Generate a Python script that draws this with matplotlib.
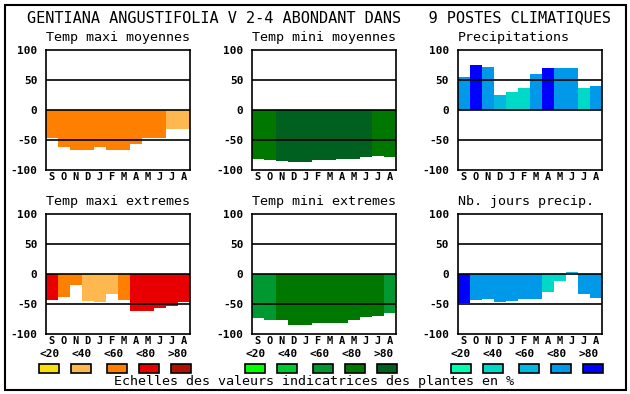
import matplotlib
matplotlib.use("Agg")
import matplotlib.pyplot as plt
from matplotlib.patches import Rectangle

# mois (septembre -> aout)
mois = ["S", "O", "N", "D", "J", "F", "M", "A", "M", "J", "J", "A"]
classes = ["<20", "<40", "<60", "<80", ">80"]

# palettes des classes (<20 ... >80)
oranges = ["#F8E010", "#FFB850", "#FF8000", "#E80000", "#B01000"]
verts = ["#00FF00", "#00C830", "#009830", "#007800", "#006020"]
bleus = ["#00FFB0", "#00D8C8", "#00B8E0", "#0098E8", "#0000FF"]

tmax_moy = [-47, -61, -66, -67, -62, -66, -67, -56, -46, -46, -32, -32]
tmax_moy_cl = [2, 2, 2, 2, 2, 2, 2, 2, 2, 2, 1, 1]

tmin_moy = [-81, -83, -85, -87, -86, -83, -83, -81, -81, -78, -76, -78]
tmin_moy_cl = [3, 3, 4, 4, 4, 4, 4, 4, 4, 4, 3, 3]

precip = [55, 75, 72, 25, 30, 37, 60, 70, 70, 70, 37, 40]
precip_cl = [3, 4, 3, 2, 1, 1, 3, 4, 3, 3, 1, 3]

tmax_ext = [-44, -38, -18, -45, -47, -34, -44, -62, -62, -56, -54, -47]
tmax_ext_cl = [3, 2, 2, 1, 1, 1, 2, 3, 3, 3, 3, 3]

tmin_ext = [-74, -77, -77, -85, -85, -82, -82, -82, -77, -72, -70, -65]
tmin_ext_cl = [2, 2, 3, 3, 3, 3, 3, 3, 3, 3, 3, 2]

jours = [-49, -44, -41, -47, -45, -41, -42, -30, -11, 4, -34, -40]
jours_cl = [4, 3, 3, 3, 3, 3, 3, 1, 1, 2, 3, 3]

W, H = 630, 394
fig = plt.figure(figsize=(W / 100, H / 100), dpi=100)
mono = "DejaVu Sans Mono"


def px(x, y):
    return x / W, 1 - y / H


def panneau(left, top, titre, vals, cl, pal):
    ax = fig.add_axes([left / W, 1 - (top + 120) / H, 144 / W, 120 / H])
    x = list(range(len(vals)))
    ax.bar(x, vals, width=1, align="edge", color=[pal[c] for c in cl], linewidth=0, zorder=1)
    for yl in (50, 0, -50):
        ax.axhline(yl, color="black", lw=1.2, zorder=3)
    ax.set_xlim(0, 12)
    ax.set_ylim(-100, 100)
    ax.set_yticks([-100, -50, 0, 50, 100])
    ax.set_yticklabels(["-100", "-50", "0", "50", "100"], fontfamily=mono, fontweight="bold", fontsize=8)
    ax.set_xticks([i + 0.5 for i in x])
    ax.set_xticklabels(mois, fontfamily=mono, fontweight="bold", fontsize=7.5)
    ax.tick_params(length=0)
    ax.tick_params(axis="y", pad=6)
    ax.tick_params(axis="x", pad=1.5)
    for s in ax.spines.values():
        s.set_linewidth(1.2)
    fx, fy = px(left, top - 12)
    fig.text(fx, fy, titre, fontfamily=mono, fontsize=9.6, ha="left", va="center")
    return ax


lefts = [45.7, 251.7, 457.5]
panneau(lefts[0], 50, "Temp maxi moyennes", tmax_moy, tmax_moy_cl, oranges)
panneau(lefts[1], 50, "Temp mini moyennes", tmin_moy, tmin_moy_cl, verts)
panneau(lefts[2], 50, "Precipitations", precip, precip_cl, bleus)
panneau(lefts[0], 214, "Temp maxi extremes", tmax_ext, tmax_ext_cl, oranges)
panneau(lefts[1], 214, "Temp mini extremes", tmin_ext, tmin_ext_cl, verts)
panneau(lefts[2], 214, "Nb. jours precip.", jours, jours_cl, bleus)

# legendes des echelles
box_off = [3.6, 35.6, 71.6, 103.6, 135.6]
lab_off = [3.5, 35.5, 67.5, 99.5, 131.5]
for left, pal in zip(lefts, [oranges, verts, bleus]):
    for i, c in enumerate(classes):
        fx, fy = px(left + lab_off[i], 354)
        fig.text(fx, fy, c, fontfamily=mono, fontweight="bold", fontsize=8, ha="center", va="center")
        bx, by = px(left + box_off[i] - 10, 373)
        fig.patches.append(Rectangle((bx, by), 20 / W, 9 / H, transform=fig.transFigure,
                                     facecolor=pal[i], edgecolor="black", lw=1.2))

fx, fy = px(314, 382)
fig.text(fx, fy, "Echelles des valeurs indicatrices des plantes en %", fontfamily=mono,
         fontsize=9.6, ha="center", va="center")

fx, fy = px(27, 18)
fig.text(fx, fy, "GENTIANA ANGUSTIFOLIA V 2-4 ABONDANT DANS   9 POSTES CLIMATIQUES",
         fontfamily=mono, fontsize=11, ha="left", va="center")

# cadre exterieur
fig.patches.append(Rectangle((4.5 / W, 1 - 390 / H), 621.5 / W, 385.5 / H, transform=fig.transFigure,
                             facecolor="none", edgecolor="black", lw=1.5))

fig.savefig("out.png", dpi=100)
